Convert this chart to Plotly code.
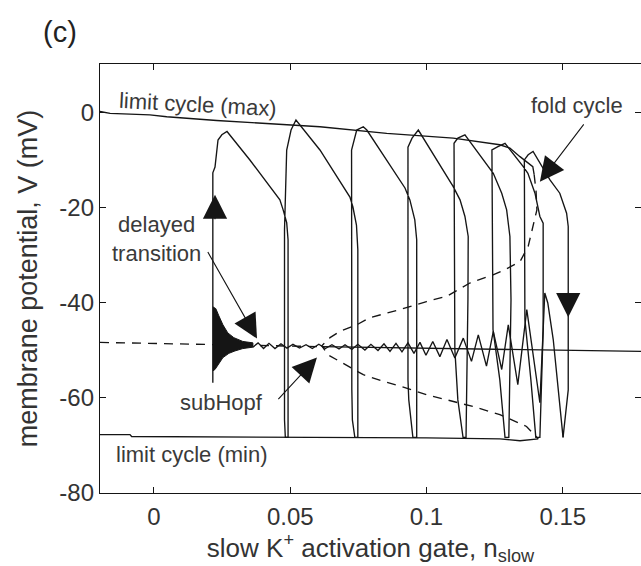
import plotly.graph_objects as go

# ---- Fast-subsystem bifurcation structure vs. slow K+ gate n_slow ----
# Equilibrium branch: unstable left of the subcritical Hopf, stable to the right
eq_unstable_n = [-0.0198, 0.0616]
eq_unstable_v = [-48.3, -49.2]
eq_stable_n = [0.0616, 0.1787]
eq_stable_v = [-49.2, -50.2]

# Stable limit cycle: maximum and minimum of V
lc_max_n = [-0.0198, -0.0161, -0.0015, 0.0047, 0.0230, 0.0413, 0.0609, 0.0854,
            0.1098, 0.1269, 0.1306, 0.1343, 0.1390, 0.1395]
lc_max_v = [0.3, -0.1, -0.4, -0.8, -1.6, -2.2, -2.9, -4.3,
            -5.3, -6.7, -7.4, -9.2, -11.3, -13.0]
lc_min_n = [-0.0198, -0.0088, -0.0082, 0.0609, 0.1000, 0.1269, 0.1343, 0.1410]
lc_min_v = [-67.7, -67.7, -68.1, -68.2, -68.4, -68.6, -69.0, -68.6]

# Unstable limit cycle from the fold of cycles, through subHopf, back to the fold
ulc_n = [0.1395, 0.1402, 0.1405, 0.1391, 0.1373, 0.1343, 0.1288, 0.1244, 0.1159,
         0.1074, 0.1000, 0.0902, 0.0792, 0.0744, 0.0682, 0.0646, 0.0616, 0.0638,
         0.0682, 0.0768, 0.0841, 0.0915, 0.1000, 0.1074, 0.1171, 0.1269, 0.1367, 0.1410]
ulc_v = [-13.0, -16.5, -20.4, -23.9, -28.1, -31.3, -33.0, -34.1, -35.8,
         -38.6, -39.7, -41.4, -43.1, -44.6, -46.0, -47.3, -49.0, -50.9,
         -52.3, -55.1, -56.5, -57.7, -59.3, -60.4, -61.8, -63.5, -66.0, -68.6]

# ---- Trajectory: active phase (spikes, n_slow increasing) ----
burst_n = [0.0216, 0.0216, 0.0224, 0.0235, 0.0249, 0.0268, 0.0352, 0.0462, 0.0474, 0.0487, 0.0492, 0.0492,
           0.0482, 0.0479, 0.0479, 0.0487, 0.0503, 0.0521, 0.0609, 0.0719, 0.0730, 0.0743, 0.0748, 0.0748,
           0.0737, 0.0728, 0.0726, 0.0725, 0.0744, 0.0768, 0.0781, 0.0921, 0.0939, 0.0957, 0.0964, 0.0964,
           0.0950, 0.0935, 0.0932, 0.0932, 0.0947, 0.0970, 0.1098, 0.1123, 0.1141, 0.1153, 0.1152, 0.1145,
           0.1134, 0.1115, 0.1104, 0.1101, 0.1115, 0.1141, 0.1245, 0.1276, 0.1294, 0.1306, 0.1310, 0.1302,
           0.1288, 0.1269, 0.1244, 0.1240, 0.1262, 0.1288, 0.1355, 0.1372, 0.1398, 0.1416, 0.1428, 0.1428,
           0.1416, 0.1401, 0.1383, 0.1361, 0.1359, 0.1373, 0.1391, 0.1453, 0.1489, 0.1514, 0.1520, 0.1520,
           0.1501]
burst_v = [-56.8, -12.6, -11.4, -5.7, -4.6, -3.9, -9.9, -18.3, -20.4, -23.1, -26.7, -68.3,
           -68.3, -64.6, -24.6, -7.8, -3.6, -1.5, -7.8, -17.7, -19.8, -23.6, -28.8, -68.3,
           -68.3, -64.6, -58.3, -7.8, -3.6, -2.9, -3.6, -15.8, -18.3, -22.5, -26.7, -68.3,
           -68.3, -60.4, -56.2, -7.2, -5.3, -3.6, -15.5, -18.3, -21.8, -26.0, -39.3, -68.3,
           -68.3, -60.4, -49.8, -6.4, -5.3, -4.6, -12.7, -16.9, -20.4, -26.0, -39.3, -68.3,
           -68.3, -56.2, -45.6, -7.8, -7.1, -6.4, -11.3, -12.7, -16.9, -21.8, -23.2, -45.6,
           -68.3, -68.3, -56.2, -43.5, -9.9, -8.8, -8.1, -14.1, -16.9, -21.1, -23.9, -58.3,
           -68.3]

# ---- Trajectory: silent phase (n_slow decreasing along the rest state) ----
quiet_n = [0.1501, 0.1483, 0.1465, 0.1445, 0.1434, 0.1416, 0.1368, 0.1335, 0.1300, 0.1276,
           0.1245, 0.1220, 0.1190, 0.1165, 0.1135, 0.1104, 0.1075, 0.1049, 0.1023, 0.0998,
           0.0976, 0.0954, 0.0932, 0.0910, 0.0888, 0.0866, 0.0844, 0.0822, 0.0796, 0.0774,
           0.0748, 0.0726, 0.0701, 0.0679, 0.0653, 0.0629, 0.0605, 0.0581, 0.0558, 0.0534,
           0.0510, 0.0488, 0.0466, 0.0444, 0.0422, 0.0402, 0.0382, 0.0363]
quiet_v = [-68.3, -58.3, -47.7, -40.0, -37.9, -61.0, -41.4, -57.2, -44.6, -54.0,
           -46.0, -53.3, -46.7, -52.3, -47.4, -51.6, -47.7, -51.3, -48.1, -51.0,
           -48.3, -50.6, -48.4, -50.3, -48.5, -50.2, -48.6, -50.0, -48.7, -49.9,
           -48.7, -49.8, -48.8, -49.7, -48.8, -49.6, -48.7, -49.6, -48.8, -49.5,
           -48.7, -49.5, -48.6, -49.6, -48.5, -49.6, -48.4, -49.3]

# Envelope of the fast, growing oscillation just before the burst restarts
env_n = [0.0216, 0.0227, 0.0238, 0.0253, 0.0271, 0.0293, 0.0326, 0.0363,
         0.0363, 0.0326, 0.0297, 0.0275, 0.0253, 0.0235, 0.0224, 0.0216]
env_v = [-40.8, -41.2, -42.7, -44.6, -46.3, -47.3, -48.1, -48.4,
         -49.3, -49.6, -50.1, -50.6, -51.5, -53.0, -54.0, -54.3]

# Arrow tips (n, V) and tail offsets in screen pixels
arrow_tip_n = [0.0224, 0.1520, 0.0378, 0.0598, 0.1416]
arrow_tip_v = [-17.2, -43.0, -47.5, -51.5, -14.5]
arrow_dx = [0, 0, -50, -40, 45]
arrow_dy = [26, -26, -88, 43, -59]

x_ticks = [0, 0.05, 0.1, 0.15]
x_ticktext = ["0", "0.05", "0.1", "0.15"]
y_ticks = [-80, -60, -40, -20, 0]
y_ticktext = ["-80", "-60", "-40", "-20", "0"]

INK = "#151515"
LW = 1.35
FONT = "Liberation Sans, Arial, sans-serif"

fig = go.Figure()


def line(n, v, dash="solid", width=LW):
    fig.add_trace(go.Scatter(x=n, y=v, mode="lines",
                             line=dict(color=INK, width=width, dash=dash),
                             showlegend=False, hoverinfo="skip"))


line(eq_unstable_n, eq_unstable_v, dash="9px,7px")
line(eq_stable_n, eq_stable_v)
line(lc_max_n, lc_max_v)
line(lc_min_n, lc_min_v)
line(ulc_n, ulc_v, dash="9px,7px")
fig.add_trace(go.Scatter(x=env_n, y=env_v, mode="lines", fill="toself",
                         fillcolor=INK, line=dict(color=INK, width=1),
                         showlegend=False, hoverinfo="skip"))
line(quiet_n, quiet_v)
line(burst_n, burst_v)
# carrier for the right-hand tick marks
fig.add_trace(go.Scatter(x=[None], y=[None], yaxis="y2", showlegend=False,
                         hoverinfo="skip"))

for tn, tv, dx, dy in zip(arrow_tip_n, arrow_tip_v, arrow_dx, arrow_dy):
    fig.add_annotation(x=tn, y=tv, ax=dx, ay=dy, text="", showarrow=True,
                       arrowhead=2, arrowsize=4.4, arrowwidth=1.1,
                       arrowcolor=INK, standoff=0)

labels = [
    ("limit cycle (max)", 0.0161, 1.7, 3),
    ("limit cycle (min)", 0.0139, -71.9, 0),
    ("fold cycle", 0.1552, 1.5, 0),
    ("delayed<br>transition", 0.0011, -26.5, 0),
    ("subHopf", 0.0246, -61.0, 0),
]
for txt, tn, tv, ang in labels:
    fig.add_annotation(x=tn, y=tv, text=txt, showarrow=False, textangle=ang,
                       font=dict(family=FONT, size=22, color="#3a3a3a"),
                       xanchor="center", yanchor="middle")

fig.add_annotation(xref="paper", yref="paper", x=-0.074, y=1.075, text="(c)",
                   showarrow=False, font=dict(family=FONT, size=29, color="#222"),
                   xanchor="center", yanchor="middle")

axis_font = dict(family=FONT, size=24, color="#333")
fig.update_layout(
    width=641, height=566,
    margin=dict(l=100, r=0, t=64, b=73),
    plot_bgcolor="white", paper_bgcolor="white",
    xaxis=dict(range=[-0.0198, 0.1787], tickvals=x_ticks, ticktext=x_ticktext,
               ticks="inside", ticklen=6, tickcolor=INK, showline=True,
               linecolor=INK, linewidth=1.4, mirror="ticks", showgrid=False,
               zeroline=False, tickfont=axis_font, ticklabelstandoff=2,
               title=dict(text="slow K<sup>+</sup> activation gate, n<sub>slow</sub>",
                          font=dict(family=FONT, size=26, color="#333"), standoff=2)),
    yaxis=dict(range=[-80, 10.3], tickvals=y_ticks, ticktext=y_ticktext,
               ticks="inside", ticklen=6,
               tickcolor=INK, showline=True, linecolor=INK, linewidth=1.4,
               showgrid=False, zeroline=False, tickfont=axis_font,
               title=dict(text="membrane potential, V (mV)",
                          font=dict(family=FONT, size=27, color="#333"), standoff=13)),
    yaxis2=dict(range=[-80, 10.3], tickvals=y_ticks, ticks="inside", ticklen=6,
                tickcolor=INK, overlaying="y", side="right", showline=False,
                showticklabels=False, showgrid=False, zeroline=False),
)

fig.write_html("out.html")
